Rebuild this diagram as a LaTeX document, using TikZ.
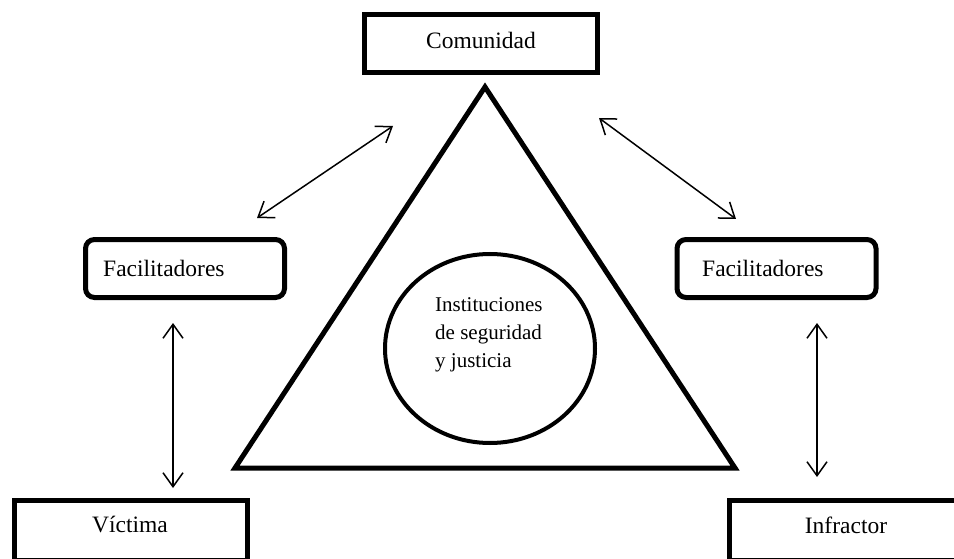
\documentclass[tikz,border=0pt]{standalone}
\usepackage{fontspec}
\setmainfont{Liberation Serif}
\usetikzlibrary{arrows.meta,shapes.geometric}
\begin{document}
\begin{tikzpicture}[x=1pt,y=-1pt,
  boxline/.style={draw,line width=5pt,inner sep=0pt},
  sqbox/.style={boxline,minimum width=233pt,minimum height=#1},
  rbox/.style={boxline,rounded corners=9pt,minimum width=199pt,minimum height=58pt},
  txt/.style={font=\fontsize{23.5}{28}\selectfont,inner sep=0pt},
  tip/.style={Straight Barb[length=14pt,width=20pt,line width=1.5pt]},
  link/.style={line width=1.5pt,{Straight Barb[length=14pt,width=20pt,line width=1.5pt]}-{Straight Barb[length=14pt,width=20pt,line width=1.5pt]}}]
\clip (0,0) rectangle (954,559);
\useasboundingbox (0,0) rectangle (954,559);

% central triangle and the institutions
\draw[line width=5pt,line join=miter] (235,468) -- (485,87) -- (735,468) -- cycle;
\node[ellipse,draw,line width=4pt,minimum width=210pt,minimum height=189pt,inner sep=0pt] (inst) at (490,348.5) {};
\node[font=\fontsize{21}{28}\selectfont,align=left,anchor=north west,inner sep=0pt] (insttext) at (435,297)
  {Instituciones\\de seguridad\\y justicia};

% boxes and their texts
\node[sqbox=58pt] (com) at (481,43.5) {};
\node[txt] (comt) at (481,40.5) {Comunidad};
\node[rbox] (facL) at (185,268.5) {};
\node[txt,anchor=west] (facLt) at (103,268) {Facilitadores};
\node[rbox] (facR) at (776.5,268.5) {};
\node[txt,anchor=west] (facRt) at (702,268) {Facilitadores};
\node[sqbox=59.5pt] (vic) at (131,530.25) {};
\node[txt] (vict) at (130,525) {Víctima};
\node[sqbox=59.5pt] (inf) at (846,530.25) {};
\node[txt] (inft) at (846,525) {Infractor};

% connector end points
\coordinate (a1) at (257,218);
\coordinate (a2) at (393,126);
\coordinate (b1) at (599,118);
\coordinate (b2) at (736,219);
\coordinate (c1) at (173,323);
\coordinate (c2) at (173,488);
\coordinate (d1) at (817,323);
\coordinate (d2) at (817,477);

\draw[link] (a1) -- (a2);
\draw[link] (b1) -- (b2);
\draw[link] (c1) -- (c2);
\draw[link] (d1) -- (d2);
\end{tikzpicture}
\end{document}
